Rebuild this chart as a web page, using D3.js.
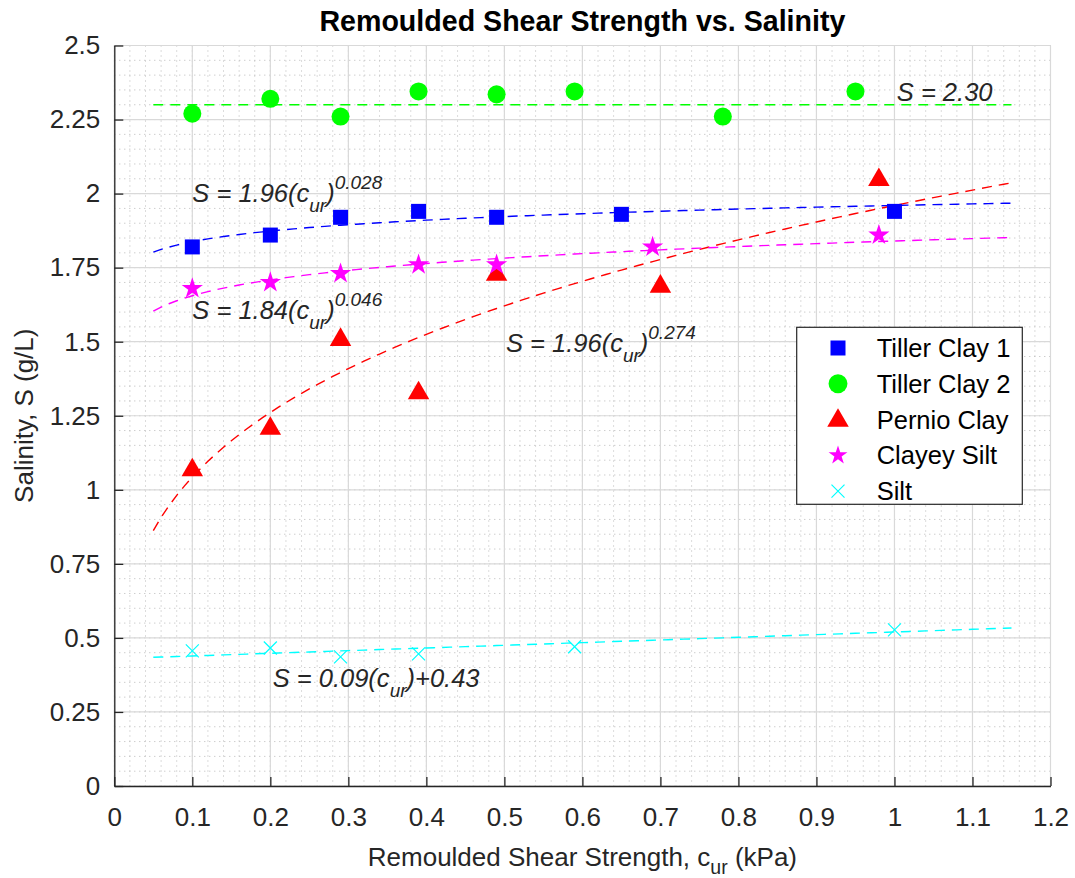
<!DOCTYPE html>
<html lang="en">
<head>
	<meta charset="UTF-8">
	<title>Remoulded Shear Strength vs. Salinity</title>
	<style>
		body { margin: 0; background: #fff; }
		text { font-family: "Liberation Sans", Arial, Helvetica, sans-serif; }
	</style>
</head>
<body>
	<script src="https://cdn.jsdelivr.net/npm/d3@7/dist/d3.min.js"></script>
	<script>
		// data
		var tc1X = [0.1, 0.2, 0.29, 0.39, 0.49, 0.65, 1.0];
		var tc1Y = [1.82, 1.86, 1.92, 1.94, 1.92, 1.93, 1.94];

		var tc2X = [0.1, 0.2, 0.29, 0.39, 0.49, 0.59, 0.78, 0.95];
		var tc2Y = [2.27, 2.32, 2.26, 2.345, 2.335, 2.345, 2.26, 2.345];

		var pcX = [0.1, 0.2, 0.29, 0.39, 0.49, 0.70, 0.98];
		var pcY = [1.07, 1.21, 1.51, 1.33, 1.73, 1.69, 2.05];

		var csX = [0.1, 0.2, 0.29, 0.39, 0.49, 0.69, 0.98];
		var csY = [1.68, 1.70, 1.73, 1.76, 1.76, 1.82, 1.86];

		var siX = [0.1, 0.2, 0.29, 0.39, 0.59, 1.0];
		var siY = [0.456, 0.466, 0.436, 0.446, 0.47, 0.527];

		var xTicks = [0, 0.1, 0.2, 0.3, 0.4, 0.5, 0.6, 0.7, 0.8, 0.9, 1, 1.1, 1.2];
		var yTicks = [0, 0.25, 0.5, 0.75, 1, 1.25, 1.5, 1.75, 2, 2.25, 2.5];
		var yTickLabels = ["0", "0.25", "0.5", "0.75", "1", "1.25", "1.5", "1.75", "2", "2.25", "2.5"];

		var legendNames = ["Tiller Clay 1", "Tiller Clay 2", "Pernio Clay", "Clayey Silt", "Silt"];

		var w = 1075, h = 878;
		var pL = 114.3, pR = 1050.5, pT = 45.5, pB = 786;

		var x = d3.scaleLinear().domain([0, 1.2]).range([pL, pR]);
		var y = d3.scaleLinear().domain([0, 2.5]).range([pB, pT]);

		var svg = d3.select("body").append("svg")
			.attr("width", w)
			.attr("height", h);

		// minor grid (dotted)
		var xMinor = d3.range(0, 61).map(function(i) { return i * 0.02; });
		var yMinor = d3.range(0, 51).map(function(i) { return i * 0.05; });
		svg.append("g").selectAll("line").data(xMinor).enter().append("line")
			.attr("x1", function(d) { return x(d); }).attr("x2", function(d) { return x(d); })
			.attr("y1", pT).attr("y2", pB)
			.attr("stroke", "#b8b8b8").attr("stroke-width", 1).attr("stroke-dasharray", "1,4");
		svg.append("g").selectAll("line").data(yMinor).enter().append("line")
			.attr("y1", function(d) { return y(d); }).attr("y2", function(d) { return y(d); })
			.attr("x1", pL).attr("x2", pR)
			.attr("stroke", "#b8b8b8").attr("stroke-width", 1).attr("stroke-dasharray", "1,4");

		// major grid
		svg.append("g").selectAll("line").data(xTicks).enter().append("line")
			.attr("x1", function(d) { return x(d); }).attr("x2", function(d) { return x(d); })
			.attr("y1", pT).attr("y2", pB)
			.attr("stroke", "#d9d9d9").attr("stroke-width", 1.2);
		svg.append("g").selectAll("line").data(yTicks).enter().append("line")
			.attr("y1", function(d) { return y(d); }).attr("y2", function(d) { return y(d); })
			.attr("x1", pL).attr("x2", pR)
			.attr("stroke", "#d9d9d9").attr("stroke-width", 1.2);

		// axes
		var xAxis = d3.axisBottom(x).tickValues(xTicks).tickSizeInner(-9).tickSizeOuter(0).tickPadding(22)
			.tickFormat(function(d) { return d3.format("")(+d.toFixed(1)); });
		var gx = svg.append("g").attr("transform", "translate(0," + pB + ")").call(xAxis);
		var yAxis = d3.axisLeft(y).tickValues(yTicks).tickSizeInner(-9).tickSizeOuter(0).tickPadding(14)
			.tickFormat(function(d, i) { return yTickLabels[i]; });
		var gy = svg.append("g").attr("transform", "translate(" + pL + ",0)").call(yAxis);
		[gx, gy].forEach(function(g) {
			g.select(".domain").attr("stroke", "#262626").attr("stroke-width", 1.3);
			g.selectAll(".tick line").attr("stroke", "#262626").attr("stroke-width", 1.3);
			g.selectAll(".tick text").attr("fill", "#262626").style("font-size", "26px")
				.style("font-family", "'Liberation Sans', Arial, sans-serif");
		});

		// fit curves
		var fitX = d3.range(0, 111).map(function(i) { return 0.05 + i * 0.01; });
		var fits = [
			{ color: "#0000ff", f: function(c) { return 1.96 * Math.pow(c, 0.028); } },
			{ color: "#00ff00", f: function(c) { return 2.30; } },
			{ color: "#ff0000", f: function(c) { return 1.96 * Math.pow(c, 0.274); } },
			{ color: "#ff00ff", f: function(c) { return 1.84 * Math.pow(c, 0.046); } },
			{ color: "#00ffff", f: function(c) { return 0.09 * c + 0.43; } }
		];
		var line = d3.line();
		fits.forEach(function(ft) {
			svg.append("path")
				.attr("d", line(fitX.map(function(c) { return [x(c), y(ft.f(c))]; })))
				.attr("fill", "none")
				.attr("stroke", ft.color)
				.attr("stroke-width", 1.4)
				.attr("stroke-dasharray", "10,7");
		});

		// markers
		function drawMarker(g, type, cx, cy, color, legend) {
			if (type === "square") {
				g.append("path").attr("d", d3.symbol(d3.symbolSquare, 225)())
					.attr("transform", "translate(" + cx + "," + cy + ")").attr("fill", color);
			} else if (type === "circle") {
				g.append("path").attr("d", d3.symbol(d3.symbolCircle, legend ? 280 : 255)())
					.attr("transform", "translate(" + cx + "," + cy + ")").attr("fill", color);
			} else if (type === "triangle") {
				g.append("path").attr("d", d3.symbol(d3.symbolTriangle, 200)())
					.attr("transform", "translate(" + cx + "," + (cy + 1) + ")").attr("fill", color);
			} else if (type === "star") {
				g.append("path").attr("d", d3.symbol(d3.symbolStar, legend ? 110 : 140)())
					.attr("transform", "translate(" + cx + "," + cy + ")").attr("fill", color);
			} else {
				var r = 6.5;
				g.append("path").attr("d", "M" + (cx - r) + "," + (cy - r) + "L" + (cx + r) + "," + (cy + r) +
					"M" + (cx - r) + "," + (cy + r) + "L" + (cx + r) + "," + (cy - r))
					.attr("stroke", color).attr("stroke-width", 1.2).attr("fill", "none");
			}
		}

		var series = [
			{ xs: tc1X, ys: tc1Y, type: "square", color: "#0000ff" },
			{ xs: tc2X, ys: tc2Y, type: "circle", color: "#00ff00" },
			{ xs: pcX, ys: pcY, type: "triangle", color: "#ff0000" },
			{ xs: csX, ys: csY, type: "star", color: "#ff00ff" },
			{ xs: siX, ys: siY, type: "x", color: "#00ffff" }
		];
		var gm = svg.append("g");
		series.forEach(function(s) {
			s.xs.forEach(function(v, i) {
				drawMarker(gm, s.type, x(v), y(s.ys[i]), s.color, false);
			});
		});

		// equations
		svg.append("text").attr("x", x(1.003)).attr("y", y(2.312))
			.attr("fill", "#262626").style("font-size", "25.5px").style("font-style", "italic")
			.text("S = 2.30");

		function powerEq(px, py, coef, expo) {
			var t = svg.append("text").attr("x", px).attr("y", py)
				.attr("fill", "#262626").style("font-size", "25.5px").style("font-style", "italic");
			t.append("tspan").text("S = " + coef + "(c");
			t.append("tspan").attr("dy", 10).style("font-size", "19px").text("ur");
			t.append("tspan").attr("dy", -10).text(")");
			t.append("tspan").attr("dy", -13).style("font-size", "19px").text(expo);
		}
		powerEq(x(0.1), y(1.97), "1.96", "0.028");
		powerEq(x(0.1), y(1.575), "1.84", "0.046");
		powerEq(x(0.502), y(1.466), "1.96", "0.274");

		var te = svg.append("text").attr("x", x(0.203)).attr("y", y(0.333))
			.attr("fill", "#262626").style("font-size", "25.5px").style("font-style", "italic");
		te.append("tspan").text("S = 0.09(c");
		te.append("tspan").attr("dy", 10).style("font-size", "19px").text("ur");
		te.append("tspan").attr("dy", -10).text(")+0.43");

		// legend
		var lg = svg.append("g");
		lg.append("rect").attr("x", 796.7).attr("y", 327.3).attr("width", 225.6).attr("height", 177)
			.attr("fill", "#fff").attr("stroke", "#262626").attr("stroke-width", 1.2);
		legendNames.forEach(function(name, i) {
			var ly = 348 + i * 35.8;
			drawMarker(lg, series[i].type, 838, ly, series[i].color, true);
			lg.append("text").attr("x", 876.7).attr("y", ly + 9)
				.attr("fill", "#000").style("font-size", "25.5px").text(name);
		});

		// title and axis labels
		svg.append("text").attr("x", (pL + pR) / 2).attr("y", 31)
			.attr("text-anchor", "middle").attr("fill", "#000")
			.style("font-size", "28.6px").style("font-weight", "bold")
			.text("Remoulded Shear Strength vs. Salinity");

		var xl = svg.append("text").attr("x", (pL + pR) / 2).attr("y", 866)
			.attr("text-anchor", "middle").attr("fill", "#262626").style("font-size", "26px");
		xl.append("tspan").text("Remoulded Shear Strength, c");
		xl.append("tspan").attr("dy", 8).style("font-size", "19.5px").text("ur");
		xl.append("tspan").attr("dy", -8).text(" (kPa)");

		svg.append("text")
			.attr("transform", "translate(33," + ((pT + pB) / 2) + ") rotate(-90)")
			.attr("text-anchor", "middle").attr("fill", "#262626").style("font-size", "26px")
			.text("Salinity, S (g/L)");
	</script>
</body>
</html>
